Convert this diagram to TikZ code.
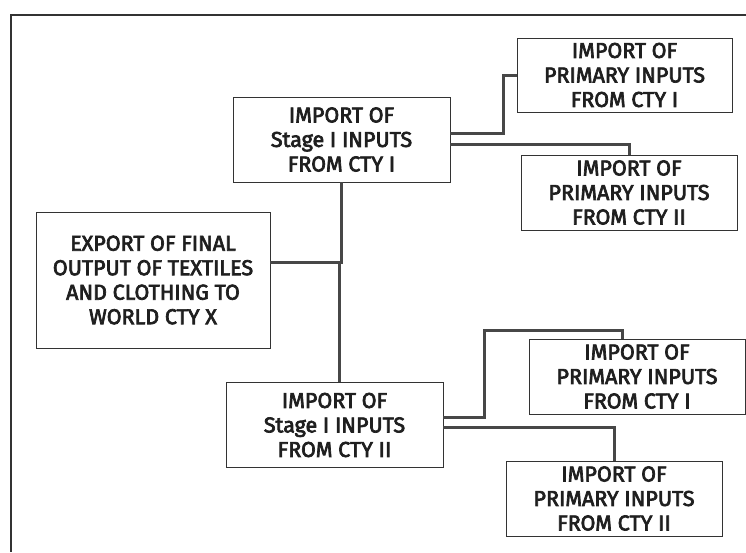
\documentclass[tikz,border=0pt]{standalone}
\usepackage{fontspec}
\newfontfamily\boxfont{Fira Sans}[UprightFeatures={FakeBold=3.2}]
\usepackage{tikz}

\begin{document}
\begin{tikzpicture}[x=1pt, y=-1pt,
  box/.style={draw=black!80, line width=0.9pt, align=center, inner sep=0pt,
    font=\boxfont\fontsize{21.5}{24.5}\selectfont, text=black!88},
  link/.style={draw=black!72, line width=3pt}]
\useasboundingbox (0,0) rectangle (746,552);
\draw[black!80, line width=1.2pt] (746,15) -- (11,15) -- (11,552);
% stage I boxes and the export box
\node[box, minimum width=217, minimum height=85] (s1) at (341.5,139.5) {IMPORT OF\\Stage I INPUTS\\FROM CTY I};
\node[box, minimum width=217, minimum height=85] (s2) at (334.5,425) {IMPORT OF\\Stage I INPUTS\\FROM CTY II};
\node[box, minimum width=234, minimum height=136] (exp) at (153,280) {EXPORT OF FINAL\\OUTPUT OF TEXTILES\\AND CLOTHING TO\\WORLD CTY X};
% primary inputs
\node[box, minimum width=215, minimum height=74] (p1a) at (624.5,75) {IMPORT OF\\PRIMARY INPUTS\\FROM CTY I};
\node[box, minimum width=216, minimum height=75] (p1b) at (629,192.5) {IMPORT OF\\PRIMARY INPUTS\\FROM CTY II};
\node[box, minimum width=216, minimum height=75] (p2a) at (637,376.5) {IMPORT OF\\PRIMARY INPUTS\\FROM CTY I};
\node[box, minimum width=216, minimum height=75] (p2b) at (614,498.5) {IMPORT OF\\PRIMARY INPUTS\\FROM CTY II};
\coordinate (jct) at (339,262);
\draw[link] (s1.south) |- (exp.east |- jct);
\draw[link] (jct) -- (jct |- s2.north);
\draw[link] ([yshift=6.5pt]s1.east) -| ([xshift=-13pt]p1a.west) -- (p1a.west);
\draw[link] ([yshift=-4.5pt]s1.east) -| (p1b.north);
\draw[link] ([yshift=8pt]s2.east) -| (484,330) -| ([xshift=-15pt]p2a.north);
\draw[link] ([yshift=-2pt]s2.east) -| (p2b.north);
\end{tikzpicture}
\end{document}
